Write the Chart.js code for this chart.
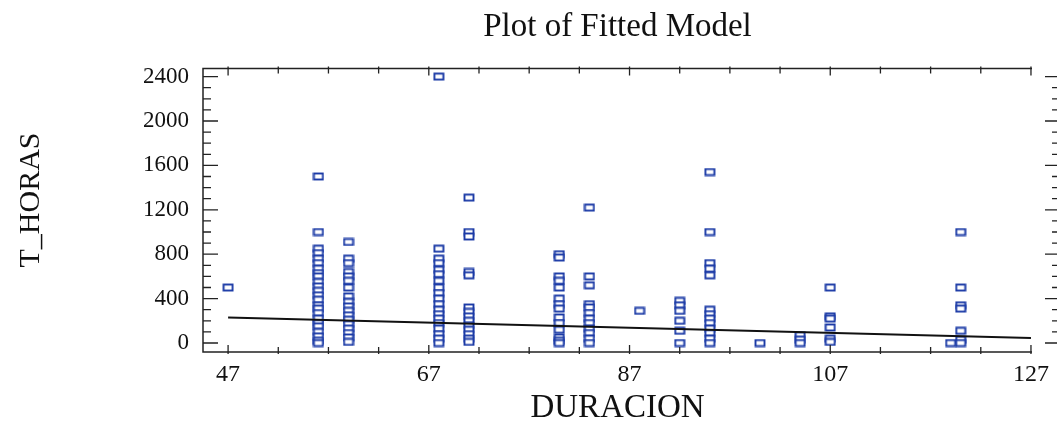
<!DOCTYPE html>
<html>
<head>
<meta charset="utf-8">
<script src="https://cdn.jsdelivr.net/npm/chart.js@4.4.1/dist/chart.umd.min.js"></script>
<style>
  html, body { margin: 0; padding: 0; background: #fff; }
  #wrap { width: 1057px; height: 425px; }
</style>
</head>
<body>
<div id="wrap"><canvas id="fitChart"></canvas></div>
<script>
// DURACION values and the T_HORAS observed at each one
const durations = [47, 56, 59, 68, 71, 80, 83, 88, 92, 95, 100, 104, 107, 119, 120];
const horas = [
    [500],
    [1500, 1000, 850, 810, 760, 720, 670, 630, 600, 550, 510, 470, 430, 390, 340, 310, 270, 220, 180, 150, 100, 60, 20, 0],
    [910, 760, 720, 640, 600, 560, 500, 420, 370, 330, 290, 250, 210, 170, 130, 90, 50, 10],
    [2400, 850, 760, 720, 660, 620, 560, 500, 450, 400, 350, 300, 260, 220, 180, 130, 80, 40, 0],
    [1310, 1000, 960, 640, 610, 320, 280, 240, 200, 160, 120, 80, 40, 10],
    [800, 770, 600, 560, 500, 400, 350, 310, 230, 180, 120, 50, 20, 0],
    [1220, 600, 520, 350, 320, 270, 220, 180, 130, 90, 40, 0],
    [290],
    [380, 340, 290, 200, 110, 0],
    [1540, 1000, 720, 670, 610, 300, 260, 220, 180, 130, 90, 40, 0],
    [0],
    [70, 30, 0],
    [500, 240, 220, 140, 40, 10],
    [0],
    [1000, 500, 340, 310, 110, 30, 0]
];

// fitted line end points
const fitX = [47, 127];
const fitY = [230, 45];

const xTicks = [47, 67, 87, 107, 127];
const yTicks = [0, 400, 800, 1200, 1600, 2000, 2400];

let points = [];
durations.forEach(function (d, i) {
    horas[i].forEach(function (h) { points.push({ x: d, y: h }); });
});

// small open rectangle marker
let marker = document.createElement("canvas");
marker.width = 12;
marker.height = 9;
let mctx = marker.getContext("2d");
mctx.fillStyle = "#ffffff";
mctx.fillRect(1, 1, 10, 7);
mctx.strokeStyle = "#1b3aa6";
mctx.lineWidth = 1.9;
mctx.strokeRect(1.5, 1.5, 9, 6);

const frameAndTicks = {
    id: "frameAndTicks",
    afterDraw: function (chart) {
        let ctx = chart.ctx;
        let a = chart.chartArea;
        let xs = chart.scales.x;
        let ys = chart.scales.y;
        ctx.save();
        ctx.strokeStyle = "#222";
        ctx.lineWidth = 1.5;
        ctx.beginPath();
        ctx.moveTo(a.right, a.top);
        ctx.lineTo(a.left, a.top);
        ctx.lineTo(a.left, a.bottom);
        ctx.lineTo(a.right, a.bottom);
        ctx.stroke();

        ctx.lineWidth = 1.3;
        ctx.beginPath();
        for (let v = 47; v <= 127; v += 5) {
            let px = xs.getPixelForValue(v);
            let len = (v - 47) % 20 === 0 ? 7 : 5;
            ctx.moveTo(px, a.bottom + 2);
            ctx.lineTo(px, a.bottom - len);
            ctx.moveTo(px, a.top - 2);
            ctx.lineTo(px, a.top + len);
        }
        for (let v = 0; v <= 2400; v += 100) {
            let py = ys.getPixelForValue(v);
            let major = v % 400 === 0;
            ctx.moveTo(a.left, py);
            ctx.lineTo(a.left + (major ? 15 : 8), py);
            ctx.moveTo(1057, py);
            ctx.lineTo(1057 - (major ? 12 : 5), py);
        }
        ctx.stroke();

        // y axis title drawn by hand to sit where the original has it
        ctx.fillStyle = "#111";
        ctx.font = "30px 'Liberation Serif'";
        ctx.textAlign = "center";
        ctx.textBaseline = "middle";
        ctx.translate(31, 200);
        ctx.rotate(-Math.PI / 2);
        ctx.fillText("T_HORAS", 0, 0);
        ctx.restore();
    }
};

new Chart(document.getElementById("fitChart").getContext("2d"), {
    type: "scatter",
    data: {
        datasets: [{
            label: "Observed",
            data: points,
            pointStyle: marker,
            pointRadius: 5,
            order: 2
        }, {
            type: "line",
            label: "Fitted",
            data: fitX.map(function (x, i) { return { x: x, y: fitY[i] }; }),
            borderColor: "#111",
            borderWidth: 2,
            pointRadius: 0,
            fill: false,
            order: 1
        }]
    },
    options: {
        responsive: true,
        maintainAspectRatio: false,
        animation: false,
        layout: { padding: { left: 0, right: 20, top: 0, bottom: 0 } },
        plugins: {
            legend: { display: false },
            tooltip: { enabled: false },
            title: {
                display: true,
                fullSize: false,
                text: "Plot of Fitted Model",
                color: "#111",
                font: { family: "Liberation Serif", size: 33, weight: "normal", lineHeight: 1.2 },
                padding: { top: 8, bottom: 21 }
            }
        },
        scales: {
            x: {
                type: "linear",
                min: 44.5,
                max: 127.1,
                afterBuildTicks: function (s) { s.ticks = xTicks.map(function (v) { return { value: v }; }); },
                afterFit: function (s) { s.height = 73; },
                grid: { display: false, drawTicks: false },
                border: { display: false },
                ticks: {
                    color: "#111",
                    padding: 8,
                    maxRotation: 0,
                    font: { family: "Liberation Serif", size: 24 }
                },
                title: {
                    display: true,
                    text: "DURACION",
                    color: "#111",
                    font: { family: "Liberation Serif", size: 33, lineHeight: 1.0 },
                    padding: { top: 2, bottom: 0 }
                }
            },
            y: {
                type: "linear",
                min: -81,
                max: 2472,
                afterBuildTicks: function (s) { s.ticks = yTicks.map(function (v) { return { value: v }; }); },
                afterFit: function (s) { s.width = 203; },
                grid: { display: false, drawTicks: false },
                border: { display: false },
                ticks: {
                    color: "#111",
                    padding: 14,
                    font: { family: "Liberation Serif", size: 23 },
                    callback: function (v) { return String(v); }
                },
                title: { display: false }
            }
        }
    },
    plugins: [frameAndTicks]
});
</script>
</body>
</html>
